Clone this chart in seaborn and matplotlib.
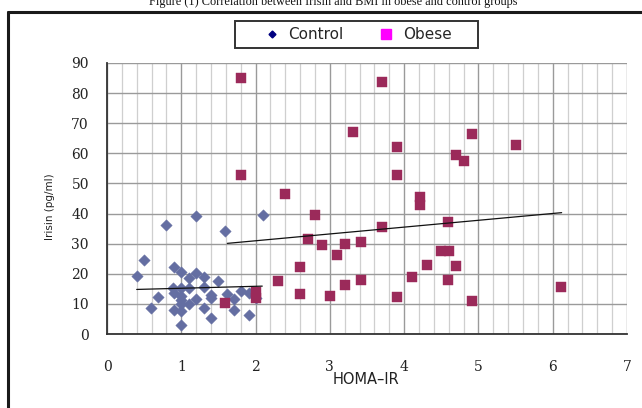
import numpy as np
import pandas as pd
import matplotlib
matplotlib.use("Agg")
import matplotlib.pyplot as plt
from matplotlib.lines import Line2D
from matplotlib.patches import Rectangle
from matplotlib.ticker import MultipleLocator
import seaborn as sns

# ---- data ----
control_x = [1.20, 2.10, 0.80, 1.59, 0.50, 0.40, 0.90, 1.00, 1.20, 1.10, 1.30, 1.50,
             0.89, 1.00, 1.10, 1.30, 0.90, 0.69, 1.00, 1.00, 1.40, 1.40, 1.20, 1.10,
             1.00, 1.61, 1.71, 1.81, 1.91, 0.59, 0.90, 1.00, 1.30, 1.71, 1.40, 1.91,
             1.00, 2.00]
control_y = [39.2, 39.5, 36.2, 34.2, 24.5, 19.3, 22.2, 20.7, 20.4, 18.5, 19.0, 17.6,
             15.2, 15.2, 15.2, 15.5, 13.5, 12.4, 12.6, 11.3, 12.8, 12.0, 11.5, 10.0,
             10.0, 13.2, 11.5, 14.4, 13.7, 8.5, 8.0, 7.6, 8.5, 8.0, 5.4, 6.3,
             3.0, 12.0]

obese_x = [1.80, 3.70, 3.31, 4.91, 5.51, 3.91, 4.70, 4.80, 1.80, 3.91, 2.40, 4.21,
           4.21, 2.80, 4.59, 3.70, 2.70, 3.42, 3.20, 2.90, 4.50, 4.60, 3.10, 4.31,
           4.70, 2.60, 4.10, 3.42, 4.59, 2.30, 3.20, 6.11, 2.60, 2.00, 2.00, 3.00,
           3.91, 4.91, 1.59]
obese_y = [84.9, 83.6, 67.2, 66.3, 62.8, 62.2, 59.5, 57.5, 52.8, 52.8, 46.5, 45.4,
           43.0, 39.4, 37.1, 35.4, 31.7, 30.7, 29.9, 29.6, 27.4, 27.7, 26.1, 22.9,
           22.6, 22.2, 19.0, 17.9, 17.9, 17.6, 16.2, 15.7, 13.3, 14.0, 12.0, 12.6,
           12.4, 11.1, 10.4]

control_trend_x = [0.40, 2.09]
control_trend_y = [14.8, 15.9]
obese_trend_x = [1.62, 6.12]
obese_trend_y = [30.1, 40.3]

x_ticks = [0, 1, 2, 3, 4, 5, 6, 7]
y_ticks = [0, 10, 20, 30, 40, 50, 60, 70, 80, 90]
group_names = ["Control", "Obese"]

title_text = "Figure (1) Correlation between Irisin and BMI in obese and control groups"
x_label = "HOMA\u2013IR"
y_label = "Irisin (pg/ml)"

df = pd.DataFrame({
    "HOMA": control_x + obese_x,
    "Irisin": control_y + obese_y,
    "Group": [group_names[0]] * len(control_x) + [group_names[1]] * len(obese_x),
})

# ---- styling ----
sns.set_style("white")
plt.rcParams["font.family"] = ["DejaVu Sans"]

W, H = 642, 408
fig = plt.figure(figsize=(W / 100, H / 100), dpi=100)
fig.patch.set_facecolor("white")

ax_l, ax_r, ax_t, ax_b = 107, 627, 63, 334
ax = fig.add_axes([ax_l / W, 1 - ax_b / H, (ax_r - ax_l) / W, (ax_b - ax_t) / H])

ctrl_color = "#646ea2"
obese_color = "#9b2a5a"

sns.scatterplot(data=df[df.Group == "Control"], x="HOMA", y="Irisin", ax=ax,
                marker="D", s=34, color=ctrl_color, edgecolor=ctrl_color,
                linewidth=0.3, legend=False, zorder=3)
sns.scatterplot(data=df[df.Group == "Obese"], x="HOMA", y="Irisin", ax=ax,
                marker="s", s=48, color=obese_color, edgecolor=obese_color,
                linewidth=0.3, legend=False, zorder=3)

ax.plot(control_trend_x, control_trend_y, color="#111111", lw=0.9, zorder=4)
ax.plot(obese_trend_x, obese_trend_y, color="#111111", lw=0.9, zorder=4)

ax.set_xlim(0, 7)
ax.set_ylim(0, 90)
ax.set_xticks(x_ticks)
ax.set_yticks(y_ticks)
ax.xaxis.set_minor_locator(MultipleLocator(0.2))

ax.grid(False)
ax.grid(which="minor", axis="x", color="#cfcfcf", lw=0.9, zorder=0)
ax.grid(which="major", axis="x", color="#9a9a9a", lw=1.0, zorder=0)
ax.grid(which="major", axis="y", color="#9a9a9a", lw=1.0, zorder=0)
ax.set_axisbelow(True)

for s in ["top", "right"]:
    ax.spines[s].set_visible(False)
for s in ["left", "bottom"]:
    ax.spines[s].set_color("#333333")
    ax.spines[s].set_linewidth(1.3)

ax.tick_params(axis="x", which="major", direction="out", length=4, width=1,
               color="#333333", pad=15)
ax.tick_params(axis="y", which="major", direction="out", length=4, width=1,
               color="#333333", pad=9)
ax.tick_params(which="minor", length=0)
for lab in ax.get_xticklabels() + ax.get_yticklabels():
    lab.set_fontfamily("DejaVu Serif")
    lab.set_fontsize(10)
    lab.set_color("#222222")

ax.set_xlabel(x_label, fontsize=10.5, color="#222222")
ax.set_ylabel(y_label, fontsize=7.5, color="#222222")
ax.xaxis.set_label_coords(0.498, -0.14)
ax.yaxis.set_label_coords(-0.10, 0.47)

# legend box (drawn as a frame) and legend entries
fig.add_artist(Rectangle((235 / W, 1 - 48 / H), (478 - 235) / W, 27 / H,
                         transform=fig.transFigure, facecolor="white",
                         edgecolor="#333333", lw=1.4, zorder=5))
handles = [
    Line2D([], [], marker="D", ls="none", color="#000080", markersize=3.5),
    Line2D([], [], marker="s", ls="none", color="#ff00ff", markersize=6.5),
]
leg = fig.legend(handles, group_names, loc="center",
                 bbox_to_anchor=(358 / W, 1 - 34.5 / H), ncol=2,
                 frameon=False, fontsize=11,
                 handlelength=1.0, handletextpad=0.6, columnspacing=2.3,
                 borderpad=0.3)
leg.set_zorder(6)

# title (clipped at the top of the image, as in the reference)
fig.text(333.5 / W, 1 - 5.3 / H, title_text, ha="center", va="baseline",
         fontfamily="Liberation Serif", fontsize=8.8, color="#111111")

# outer frame of the chart
fig.add_artist(Line2D([8 / W, 8 / W], [0, 1 - 12 / H], transform=fig.transFigure,
                      color="#1a1a1a", lw=2.2))
fig.add_artist(Line2D([8 / W, 1], [1 - 12 / H, 1 - 12 / H], transform=fig.transFigure,
                      color="#1a1a1a", lw=2.2))

fig.savefig("out.png", dpi=100)
